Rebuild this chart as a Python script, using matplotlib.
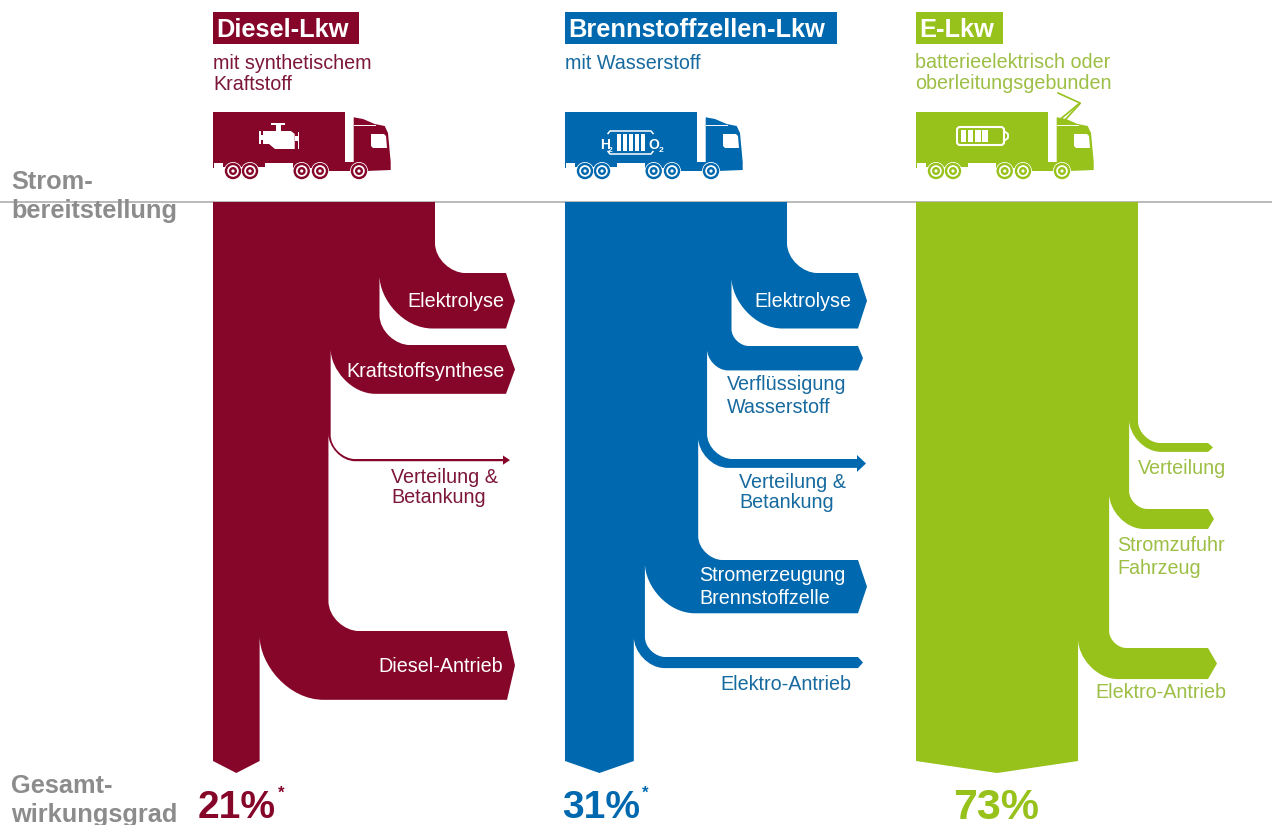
import matplotlib
matplotlib.use('Agg')
import matplotlib.pyplot as plt
from matplotlib.patches import Circle, FancyBboxPatch, PathPatch, Polygon, Rectangle
from matplotlib.path import Path

plt.rcParams['font.family'] = ['Liberation Sans', 'DejaVu Sans']

# Values in percent of the electricity put in
diesel_stages = ['Elektrolyse', 'Kraftstoffsynthese', 'Verteilung & Betankung', 'Diesel-Antrieb']
diesel_losses = [25, 22, 1, 31]
diesel_result = 21

fuelcell_stages = ['Elektrolyse', 'Verflüssigung Wasserstoff', 'Verteilung & Betankung',
                   'Stromerzeugung Brennstoffzelle', 'Elektro-Antrieb']
fuelcell_losses = [25, 11, 4, 24, 5]
fuelcell_result = 31

electric_stages = ['Verteilung', 'Stromzufuhr Fahrzeug', 'Elektro-Antrieb']
electric_losses = [4, 9, 14]
electric_result = 73

DIESEL = '#86062a'
BLUE = '#0068ae'
GREEN = '#97c11b'
DIESEL_TEXT = '#7c1738'
BLUE_TEXT = '#176a9f'
GREEN_TEXT = '#9dbf45'
GRAY = '#8c8c8c'

TOP = 202
PX_PER_PCT = 2.22
KAPPA = 0.45

fig = plt.figure(figsize=(12.72, 8.25), dpi=100)
ax = fig.add_axes([0, 0, 1, 1])
ax.set_xlim(0, 1272)
ax.set_ylim(825, 0)
ax.axis('off')


def draw_flow(x0, losses, result, layout, color):
    verts = [(x0, TOP), (x0 + 100 * PX_PER_PCT, TOP)]
    codes = [Path.MOVETO, Path.LINETO]
    right = x0 + 100 * PX_PER_PCT

    def line(x, y):
        verts.append((x, y))
        codes.append(Path.LINETO)

    def curve(c1, c2, end):
        verts.extend([c1, c2, end])
        codes.extend([Path.CURVE4] * 3)

    for loss, (y_top, ro, ri, base, tip, flare) in zip(losses, layout):
        width = loss * PX_PER_PCT
        inner = right - width
        y_bot = y_top + width
        line(right, y_top - ro)
        curve((right, y_top - ro * KAPPA), (right + ro * (1 - KAPPA), y_top), (right + ro, y_top))
        line(base, y_top)
        if flare:
            line(base, y_top - flare)
        line(tip, (y_top + y_bot) / 2)
        if flare:
            line(base, y_bot + flare)
        line(base, y_bot)
        line(inner + ri, y_bot)
        curve((inner + ri * KAPPA, y_bot), (inner, y_bot - ri * (1 - KAPPA)), (inner, y_bot - ri))
        right = inner

    # pointed foot of the remaining flow
    foot = x0 + result * PX_PER_PCT
    line(foot, 761)
    line((x0 + foot) / 2, 773)
    line(x0, 761)
    verts.append((x0, TOP))
    codes.append(Path.CLOSEPOLY)
    ax.add_patch(PathPatch(Path(verts, codes), fc=color, ec='none', zorder=3))


def draw_truck(x0, color):
    def pts(*xy):
        return [(x0 + x, y) for x, y in xy]

    ax.add_patch(Rectangle((x0, 112), 132, 50.5, fc=color, ec='none', zorder=3))
    # trailer frame and rear bumper
    ax.add_patch(Polygon(pts((0, 160), (52, 160), (52, 167), (10, 167), (10, 163), (1, 163), (1, 168), (0, 168)),
                         fc=color, ec='none', zorder=3))
    ax.add_patch(Polygon(pts((80, 162), (141, 162), (141, 171), (115, 171), (113, 168), (80, 168)),
                         fc=color, ec='none', zorder=3))
    # cab
    ax.add_patch(Polygon(pts((140.7, 117.3), (150, 119), (161.7, 124), (171.7, 126), (175, 133), (177.7, 162),
                             (177.7, 170), (153, 171), (140.7, 171)), fc=color, ec='none', zorder=3))
    ax.plot([x0 + 141, x0 + 162], [124.5, 124.5], color='white', lw=0.7, zorder=4)
    ax.add_patch(Polygon(pts((158, 134), (171, 134), (173, 136), (174, 148), (160, 148), (158, 146)),
                         fc='white', ec='none', zorder=4))
    # wheels
    for wx in [20, 37, 88.7, 107, 146]:
        for r, c in [(9, 'white'), (8.2, color), (5.8, 'white'), (4, color), (1.6, 'white')]:
            ax.add_patch(Circle((x0 + wx, 171), r, fc=c, ec='none', zorder=5))


def draw_engine(x0):
    parts = [
        [(58, 122.5), (72, 122.5), (72, 125), (58, 125)],
        [(63, 125), (68, 125), (68, 131), (63, 131)],
        [(50, 131), (78, 131), (81.7, 134), (81.7, 149), (62, 149), (56, 144), (50, 144)],
        [(47, 135), (50, 135), (50, 140), (47, 140)],
        [(46, 131), (47.5, 131), (47.5, 144), (46, 144)],
        [(81.7, 136), (85, 136), (85, 141), (81.7, 141)],
        [(84.5, 132), (86, 132), (86, 149), (84.5, 149)],
    ]
    for p in parts:
        ax.add_patch(Polygon([(x0 + x, y) for x, y in p], fc='white', ec='none', zorder=4))


def draw_fuelcell(x0):
    for i in range(5):
        ax.add_patch(Rectangle((x0 + 51.5 + i * 6.2, 134), 4, 16.5, fc='white', ec='none', zorder=4))
    ax.plot([x0 + 43, x0 + 45, x0 + 86, x0 + 88], [133.5, 131, 131, 133.5], color='white', lw=1.1, zorder=4)
    ax.plot([x0 + 43, x0 + 45, x0 + 86, x0 + 88], [151.5, 154, 154, 151.5], color='white', lw=1.1, zorder=4)
    ax.text(x0 + 35, 149, 'H', color='white', fontsize=10, fontweight='bold', zorder=4)
    ax.text(x0 + 43, 152, '2', color='white', fontsize=6, fontweight='bold', zorder=4)
    ax.text(x0 + 83.5, 149, 'O', color='white', fontsize=10, fontweight='bold', zorder=4)
    ax.text(x0 + 94, 152, '2', color='white', fontsize=6, fontweight='bold', zorder=4)


def draw_battery(x0, color):
    ax.add_patch(FancyBboxPatch((x0 + 41, 127), 47, 18, boxstyle='round,pad=0,rounding_size=3',
                                fc='none', ec='white', lw=1.5, zorder=4))
    ax.add_patch(Polygon([(x0 + 88, 131), (x0 + 92, 134), (x0 + 92, 138), (x0 + 88, 141)],
                         fc='none', ec='white', lw=1.3, zorder=4))
    for i in range(4):
        ax.add_patch(Rectangle((x0 + 44.5 + i * 7.2, 130), 5.6, 12, fc='white', ec='none', zorder=4))
    # pantograph
    ax.plot([x0 + 145.7, x0 + 164, x0 + 142], [118, 103, 93], color=color, lw=1.2, zorder=3)
    ax.plot([x0 + 150, x0 + 164], [119, 103.5], color=color, lw=1.2, zorder=3)


def title_box(x, width, label, color):
    ax.add_patch(Rectangle((x, 12), width, 32, fc=color, ec='none', zorder=3))
    ax.text(x + 3.5, 37, label, color='white', fontsize=18.3, fontweight='bold', va='baseline', zorder=4)


def labels(rows, color, size=14.2):
    for x, y, ha, s in rows:
        ax.text(x, y, s, color=color, fontsize=size, ha=ha, va='baseline', zorder=6)


def percent(x, y, value, color, size):
    ax.text(x, y, '{0}%'.format(value), color=color, fontsize=size, fontweight='bold', va='baseline', zorder=6)


ax.plot([0, 1272], [TOP, TOP], color='#b4b4b4', lw=1.3, zorder=1)

# y_top, outer radius, inner radius, base x, tip x, arrow flare
diesel_layout = [(273, 30, 53, 506, 515, 0), (345, 30, 45, 506, 515, 0),
                 (459, 24, 27, 503, 510, 3.5), (631, 30, 64, 507, 515, 0)]
fuelcell_layout = [(273, 30, 51, 858, 867, 0), (346, 17, 21, 858, 863, 0),
                   (459, 25, 30, 857, 866, 4), (560, 24, 50, 858, 867, 0), (657, 20, 31, 858, 863, 0)]
electric_layout = [(443, 22, 32, 1208, 1213, 0), (509, 18, 35, 1208, 1214, 0), (648, 17, 40, 1208, 1217, 0)]

draw_flow(213, diesel_losses, diesel_result, diesel_layout, DIESEL)
draw_flow(565, fuelcell_losses, fuelcell_result, fuelcell_layout, BLUE)
draw_flow(916, electric_losses, electric_result, electric_layout, GREEN)

draw_truck(213, DIESEL)
draw_engine(213)
draw_truck(565, BLUE)
draw_fuelcell(565)
draw_truck(916, GREEN)
draw_battery(916, GREEN)

title_box(213, 146, 'Diesel-Lkw', DIESEL)
title_box(565, 272, 'Brennstoffzellen-Lkw', BLUE)
title_box(916, 87, 'E-Lkw', GREEN)

labels([(213, 69, 'left', 'mit synthetischem'), (213, 90, 'left', 'Kraftstoff'),
        (391, 483, 'left', 'Verteilung &'), (391, 503, 'left', 'Betankung')], DIESEL_TEXT)
labels([(565, 69, 'left', 'mit Wasserstoff'),
        (727, 390, 'left', 'Verflüssigung'), (727, 413, 'left', 'Wasserstoff'),
        (739, 488, 'left', 'Verteilung &'), (739, 508, 'left', 'Betankung'),
        (851, 690, 'right', 'Elektro-Antrieb')], BLUE_TEXT)
labels([(915, 68, 'left', 'batterieelektrisch oder'), (915, 89, 'left', 'oberleitungsgebunden'),
        (1226, 474, 'right', 'Verteilung'),
        (1117, 551, 'left', 'Stromzufuhr'), (1117, 574, 'left', 'Fahrzeug'),
        (1226, 698, 'right', 'Elektro-Antrieb')], GREEN_TEXT)
labels([(504, 307, 'right', 'Elektrolyse'), (505, 377, 'right', 'Kraftstoffsynthese'),
        (503, 672, 'right', 'Diesel-Antrieb'), (851, 307, 'right', 'Elektrolyse'),
        (699, 581, 'left', 'Stromerzeugung'), (699, 604, 'left', 'Brennstoffzelle')], 'white')

for y, s in [(189, 'Strom-'), (218, 'bereitstellung'), (793, 'Gesamt-'), (822, 'wirkungsgrad')]:
    ax.text(11, y, s, color=GRAY, fontsize=18.3, fontweight='bold', va='baseline', zorder=6)

percent(198, 818, diesel_result, DIESEL, 28)
percent(562, 818, fuelcell_result, BLUE, 28)
percent(953, 819, electric_result, GREEN, 31)
ax.text(281, 798, '*', color=DIESEL, fontsize=12, fontweight='bold', ha='center', va='baseline', zorder=6)
ax.text(645, 798, '*', color=BLUE, fontsize=12, fontweight='bold', ha='center', va='baseline', zorder=6)

fig.savefig('out.png', dpi=100)
